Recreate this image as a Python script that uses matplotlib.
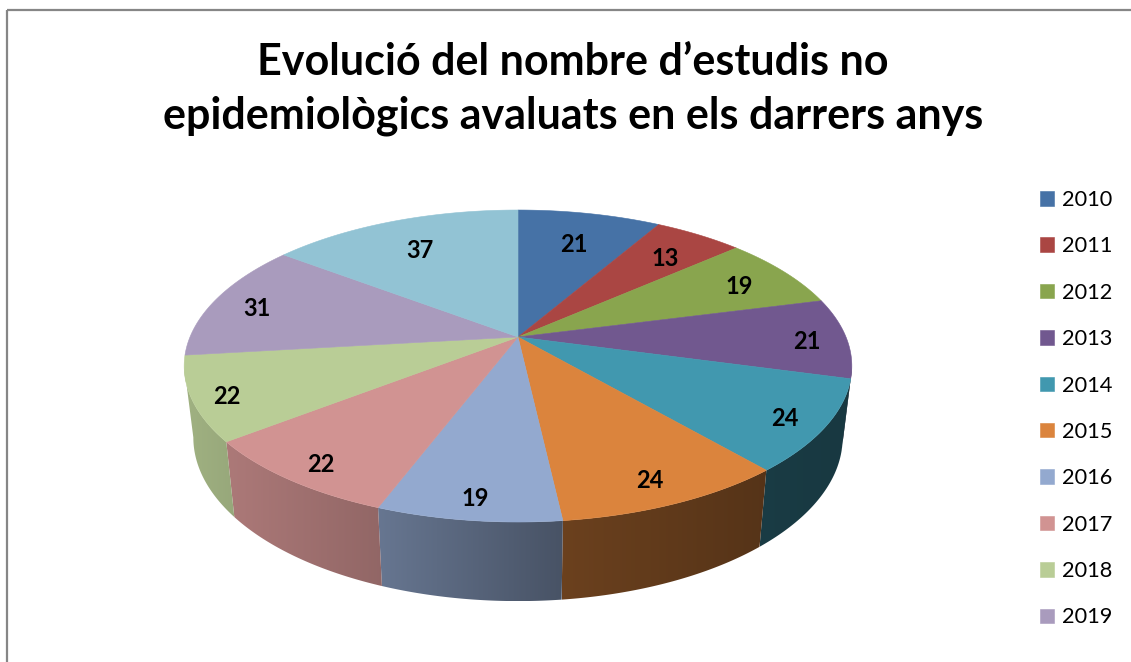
import numpy as np
import matplotlib
matplotlib.use("Agg")
import matplotlib.pyplot as plt
from matplotlib.colors import to_rgb
from matplotlib.patches import Polygon, Rectangle

plt.rcParams['font.family'] = ['Lato', 'DejaVu Sans']

title_text = "Evolució del nombre d’estudis no\nepidemiològics avaluats en els darrers anys"
years = ['2010', '2011', '2012', '2013', '2014', '2015', '2016', '2017', '2018', '2019', '2020']
values = [21, 13, 19, 21, 24, 24, 19, 22, 22, 31, 37]
legend_shown = 10  # the reference cuts the legend after 2019

colors = ['#4672a6', '#aa4643', '#89a54e', '#71588f', '#4198af', '#db843d',
          '#93a9cf', '#d19392', '#b9cd96', '#a99bbd', '#92c3d4']
label_radius = [.75, .79, .82, .88, .88, .86, .88, .88, .90, .86, .76]

# perspective model of the pie disc, in pixels
CX, PERSP = 518, 0.186
TOP = dict(A=328, B=150.6, y0=337)
BOT = dict(A=319, B=158.0, y0=407)
# wall brightness as a function of screen x
SHADE_X = [190, 232, 378, 562, 767, 850]
SHADE_K = [.86, .82, .70, .49, .39, .37]
# the disc outline turns back at these angles, walls only show between them
T_START = np.degrees(np.arccos(-PERSP))
T_END = 360 - T_START


def project(t_deg, r, m):
    t = np.radians(t_deg)
    u, v = r * np.sin(t), r * np.cos(t)
    w = 1 + PERSP * v
    return CX + m['A'] * u / w, m['y0'] - m['B'] * v / w


fig = plt.figure(figsize=(11.31, 6.62), dpi=100, facecolor='white')
ax = fig.add_axes([0, 0, 1, 1])

# outer frame, open beyond the right and bottom edges
ax.add_patch(Rectangle((7, 9.5), 1200, 700, fill=False, ec='#868686', lw=1.6, zorder=0))

edges = np.cumsum([0] + values) / sum(values) * 360

# side walls, each a horizontal gradient clipped to the wall outline
for i, c in enumerate(colors):
    lo, hi = max(edges[i], T_START), min(edges[i + 1], T_END)
    if hi <= lo:
        continue
    ts = np.linspace(lo, hi, 80)
    xt, yt = project(ts, 1, TOP)
    xb, yb = project(ts, 1, BOT)
    xs = np.r_[xt, xb[::-1]]
    ys = np.r_[yt, yb[::-1]]
    x0, x1, y0, y1 = xs.min(), xs.max(), ys.min(), ys.max()
    gx = np.linspace(x0, x1, 200)
    img = np.array(to_rgb(c))[None, None, :] * np.interp(gx, SHADE_X, SHADE_K)[None, :, None]
    outline = Polygon(np.column_stack([xs, ys]), closed=True, transform=ax.transData,
                      fc='none', ec='none')
    ax.add_patch(outline)
    im = ax.imshow(img, extent=(x0, x1, y1, y0), aspect='auto', interpolation='bilinear', zorder=2)
    im.set_clip_path(outline)

# top faces
handles = []
for i, c in enumerate(colors):
    ts = np.linspace(edges[i], edges[i + 1], 120)
    x, y = project(ts, 1, TOP)
    pts = np.column_stack([np.r_[CX, x], np.r_[TOP['y0'], y]])
    patch = Polygon(pts, closed=True, fc=c, ec=c, lw=0.4, zorder=3)
    ax.add_patch(patch)
    handles.append(patch)

# value labels
for i, val in enumerate(values):
    mid = (edges[i] + edges[i + 1]) / 2
    x, y = project(mid, label_radius[i], TOP)
    ax.annotate(str(val), (x, y), xytext=(0, -3), textcoords='offset points',
                ha='center', va='center', fontsize=17, fontweight='bold',
                color='black', zorder=4)

ax.text(573, 89, title_text, ha='center', va='center', fontsize=31, fontweight='bold',
        color='black', linespacing=1.43)

fs = 15.7
px = fs * 100 / 72
ax.set_xlim(0, 1131)
ax.set_ylim(662, 0)
ax.axis('off')
ax.legend(handles[:legend_shown], years[:legend_shown], loc='upper left',
          bbox_to_anchor=(1040 / 1131, 1 - 190 / 662), frameon=False, fontsize=fs,
          handlelength=14 / px, handleheight=14 / px, handletextpad=8 / px,
          labelspacing=(47.42 - px * 0.965) / px, borderpad=0, borderaxespad=0)

fig.savefig('out.png', dpi=100, facecolor='white')
